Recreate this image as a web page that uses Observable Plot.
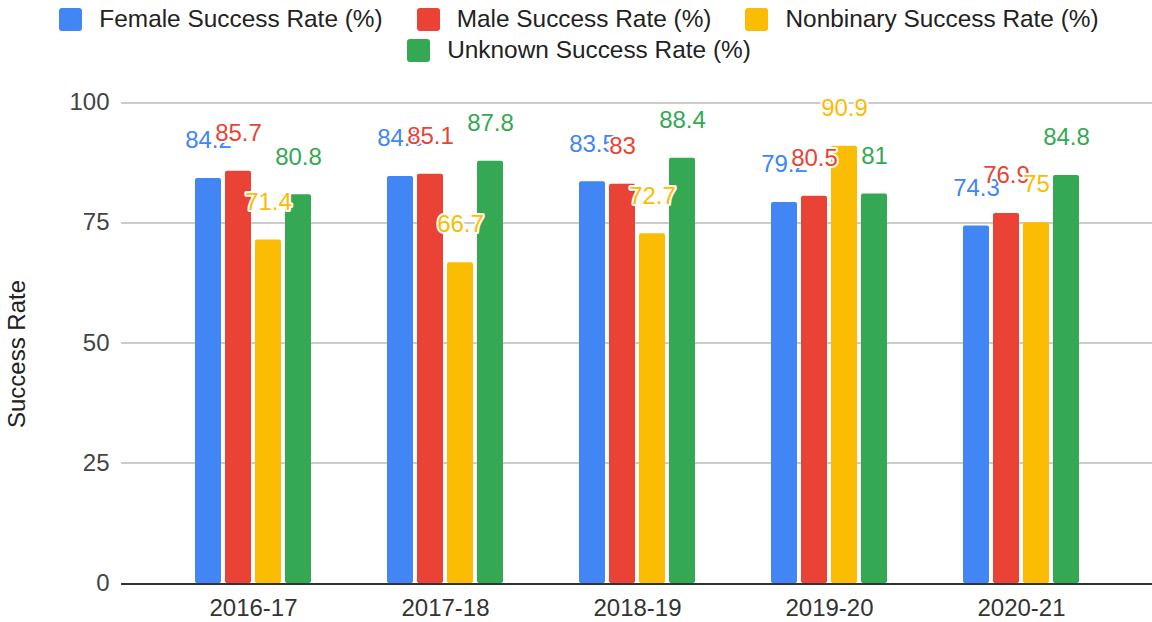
<!DOCTYPE html>
<html><head><meta charset="utf-8">
<script src="https://cdn.jsdelivr.net/npm/d3@7"></script>
<script src="https://cdn.jsdelivr.net/npm/@observablehq/plot@0.6"></script>
<style>
body{margin:0;background:#fff;font-family:"Liberation Sans",Arial,sans-serif;}
#legend{box-sizing:border-box;height:70px;width:1152px;padding:5px 0 0 6px;display:flex;flex-wrap:wrap;justify-content:center;align-content:flex-start;column-gap:34px;row-gap:3px;font-size:24.4px;line-height:28px;color:#222;}
.item{display:flex;align-items:center;gap:17px;white-space:nowrap;}
.sw{width:23px;height:23px;border-radius:3px;}
</style></head><body>
<div id="legend"></div>
<div id="chart"></div>
<script>
const years = ["2016-17", "2017-18", "2018-19", "2019-20", "2020-21"];
const seriesNames = ["Female Success Rate (%)", "Male Success Rate (%)", "Nonbinary Success Rate (%)", "Unknown Success Rate (%)"];
const female = [84.2, 84.6, 83.5, 79.2, 74.3];
const male = [85.7, 85.1, 83, 80.5, 76.9];
const nonbinary = [71.4, 66.7, 72.7, 90.9, 75];
const unknown = [80.8, 87.8, 88.4, 81, 84.8];
const colors = ["#4285F4", "#EA4335", "#FBBC04", "#34A853"];
const yTicks = [0, 25, 50, 75, 100];
const yTitle = "Success Rate";

const seriesValues = [female, male, nonbinary, unknown];
const data = [];
years.forEach((yr, i) => {
  seriesNames.forEach((s, j) => data.push({year: yr, series: s, value: seriesValues[j][i]}));
});

// legend
const legend = document.getElementById("legend");
seriesNames.forEach((s, j) => {
  const it = document.createElement("div"); it.className = "item";
  const sw = document.createElement("div"); sw.className = "sw"; sw.style.background = colors[j];
  const t = document.createElement("span"); t.textContent = s;
  it.appendChild(sw); it.appendChild(t); legend.appendChild(it);
});

const font = '"Liberation Sans", Arial, sans-serif';
const chart = Plot.plot({
  width: 1152, height: 552,
  marginTop: 32, marginBottom: 39, marginLeft: 156, marginRight: 35,
  style: {fontFamily: font, fontSize: "24px", background: "white"},
  fx: {domain: years, paddingInner: 0, paddingOuter: 0, label: null},
  x: {domain: seriesNames, paddingInner: 0.131, paddingOuter: 1.217, axis: null},
  y: {domain: [0, 100], axis: null},
  color: {domain: seriesNames, range: colors},
  marks: [
    Plot.ruleY(yTicks.filter(t => t > 0), {stroke: "#cccccc", strokeWidth: 2, shapeRendering: "crispEdges", insetLeft: -36, insetRight: -35}),
    Plot.axisY(yTicks, {anchor: "left", tickSize: 0, tickPadding: 48, fontSize: 24, color: "#444", label: null}),
    Plot.text([yTitle], {facet: "super", frameAnchor: "left", rotate: -90, dx: -140, dy: 85, fontSize: 24, fill: "#222"}),
    Plot.barY(data, {fx: "year", x: "series", y: "value", fill: "series", rx: 2}),
    Plot.ruleY([0], {stroke: "#333", strokeWidth: 2, shapeRendering: "crispEdges", insetLeft: -36, insetRight: -35}),
    Plot.text(data, {fx: "year", x: "series", y: "value", text: d => String(d.value), fill: "series", stroke: "white", strokeWidth: 4, dy: -38, fontSize: 24}),
    Plot.axisFx({anchor: "bottom", tickSize: 0, tickPadding: 15, fontSize: 24, color: "#333", label: null})
  ]
});
document.getElementById("chart").appendChild(chart);
</script>
</body></html>
